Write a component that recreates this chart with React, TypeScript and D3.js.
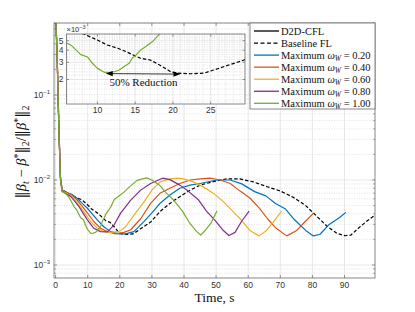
import React from 'react';
import * as d3 from 'd3';

const W = 415;
const H = 312;

// ---- data (values in units of 1e-3) ----
const greenT = [0, 0.5, 1, 1.5, 2, 3, 4, 5, 5.8, 6.5, 7.8, 8.7, 9.3, 10, 10.9, 11.6, 12.2, 12.9, 13.5, 14.2, 14.6, 15.1, 15.7, 16.4, 17.3, 17.9, 18.3, 19.5, 21.3, 23, 25.4, 27, 28.4, 30, 32.5, 34.5, 36.6, 39.5, 41.8, 43.8, 45.2, 46.8, 48.4, 50.3];
const greenV = [1000, 250, 40, 10, 7.3, 7.0, 6.4, 5.5, 4.8, 4.5, 3.6, 3.4, 2.95, 2.6, 2.37, 2.36, 2.4, 2.5, 2.7, 2.93, 3.3, 3.55, 4.0, 4.35, 4.9, 5.5, 5.9, 6.4, 7.2, 8.3, 9.9, 10.3, 10.6, 10.0, 8.6, 7.0, 5.9, 4.3, 3.1, 2.5, 2.25, 2.6, 3.1, 4.35];

const purpleT = [0, 0.5, 1, 1.5, 2, 3, 4.7, 6, 7.3, 8.5, 9.9, 11.9, 14, 16.1, 18.2, 20.2, 23.4, 26.5, 29.6, 33.3, 35.6, 38.7, 41.3, 44.4, 47, 49.8, 52, 54, 55.9, 57.9, 60.3];
const purpleV = [1000, 260, 42, 10.5, 7.4, 7.0, 6.4, 5.6, 4.85, 4.1, 3.4, 2.7, 2.47, 2.45, 2.95, 4.05, 5.8, 7.6, 9.1, 10.5, 10.1, 8.7, 7.4, 5.9, 4.3, 3.3, 2.6, 2.22, 2.42, 3.25, 4.3];

const yellowT = [0, 0.5, 1, 1.5, 2, 3, 4.5, 5.7, 7.2, 8.8, 10.9, 13, 15, 17.1, 19.7, 21.8, 24.4, 27.5, 30, 32.5, 35.6, 38, 39.8, 42.9, 46, 49.1, 52.2, 55.3, 57.8, 60.5, 63.4, 65.7, 67.8, 70.4];
const yellowV = [1000, 270, 44, 11, 7.5, 7.1, 6.6, 6.1, 5.1, 4.25, 3.25, 2.7, 2.47, 2.42, 2.47, 2.82, 3.87, 5.5, 7.6, 9.5, 10.3, 10.5, 10.3, 9.5, 8.3, 7.0, 5.6, 4.25, 3.4, 2.55, 2.2, 2.55, 3.2, 4.3];

const orangeT = [0, 0.5, 1, 1.5, 2, 3, 5, 6.7, 8.3, 9.9, 11.9, 14, 16.1, 18.7, 21.3, 23.4, 26.5, 29.6, 32.5, 35.6, 38.7, 41.9, 45, 48.1, 51.2, 54.4, 57.5, 60.6, 63.6, 66, 68.5, 72, 75.1, 77.7, 80.3];
const orangeV = [1000, 270, 45, 11, 7.6, 7.2, 6.7, 5.8, 4.9, 4.1, 3.25, 2.7, 2.47, 2.32, 2.42, 2.6, 3.5, 5.3, 6.97, 8.0, 9.1, 10.0, 10.3, 10.5, 10.0, 9.1, 7.4, 6.1, 4.6, 3.5, 2.75, 2.2, 2.55, 3.23, 4.05];

const blueT = [0, 0.5, 1, 1.5, 2, 3, 5, 6.7, 8.3, 9.9, 13, 15, 17.1, 19.7, 21.8, 24.4, 27.5, 30, 32.5, 35.6, 38.7, 41.9, 45, 50.2, 54.4, 58, 62, 65.5, 68.5, 71.5, 74.3, 77.9, 80.3, 82.4, 85, 88.6, 90.4];
const blueV = [1000, 270, 45, 11, 7.6, 7.2, 6.8, 6.1, 5.3, 4.65, 3.39, 2.82, 2.47, 2.32, 2.32, 2.47, 3.24, 4.1, 5.3, 6.66, 8.0, 8.7, 9.1, 10.0, 10.0, 9.0, 7.3, 6.5, 5.3, 4.6, 3.45, 2.55, 2.2, 2.3, 2.95, 3.64, 4.16];

const baseT = [0, 0.5, 1, 1.5, 2, 3, 4, 5.7, 8.2, 10, 11.3, 12.7, 13.8, 15.7, 17, 18.3, 19.7, 20.6, 22.3, 24.1, 25.4, 26.7, 28.1, 29.6, 32.5, 35.6, 38.7, 41.9, 45, 49.1, 53.3, 57.4, 61.6, 65.9, 70.1, 74.2, 77.9, 81.5, 84.6, 87.7, 90.2, 92, 94.3, 97, 99.3];
const baseV = [1000, 270, 45, 11, 7.7, 7.3, 7.0, 6.37, 5.86, 5.08, 4.52, 4.18, 3.86, 3.3, 3.17, 2.8, 2.4, 2.32, 2.29, 2.32, 2.5, 2.7, 2.93, 3.2, 4.24, 5.3, 6.37, 7.6, 8.7, 9.55, 10.3, 10.3, 9.5, 8.34, 7.4, 6.2, 5.0, 3.7, 2.85, 2.35, 2.21, 2.25, 2.7, 3.3, 3.8];

const legendLabels = ['D2D-CFL', 'Baseline FL', '0.20', '0.40', '0.60', '0.80', '1.00'];
const xTicks = [0, 10, 20, 30, 40, 50, 60, 70, 80, 90];
const yDecades = [-3, -2, -1];
const insetXTicks = [10, 15, 20, 25];
const insetYTicks = [2, 3, 4, 5];

const UNIT = 1e-3;
const SERIF = "'Liberation Serif', 'Times New Roman', serif";
const BARS = "'DejaVu Serif', serif";
const SANS = "'Liberation Sans', Arial, Helvetica, sans-serif";

const COLORS = {
  blue: '#0072BD',
  orange: '#D95319',
  yellow: '#EDB120',
  purple: '#7E2F8E',
  green: '#77AC30',
  black: '#000000',
};

type S = { t: number[]; v: number[]; color: string; dash?: string };

const seriesList: S[] = [
  { t: baseT, v: baseV, color: COLORS.black, dash: '3.5 2' },
  { t: blueT, v: blueV, color: COLORS.blue },
  { t: orangeT, v: orangeV, color: COLORS.orange },
  { t: yellowT, v: yellowV, color: COLORS.yellow },
  { t: purpleT, v: purpleV, color: COLORS.purple },
  { t: greenT, v: greenV, color: COLORS.green },
];

const legendItems = [
  { color: COLORS.black, dash: undefined as string | undefined, label: legendLabels[0], omega: false },
  { color: COLORS.black, dash: '4 2.5', label: legendLabels[1], omega: false },
  { color: COLORS.blue, dash: undefined, label: legendLabels[2], omega: true },
  { color: COLORS.orange, dash: undefined, label: legendLabels[3], omega: true },
  { color: COLORS.yellow, dash: undefined, label: legendLabels[4], omega: true },
  { color: COLORS.purple, dash: undefined, label: legendLabels[5], omega: true },
  { color: COLORS.green, dash: undefined, label: legendLabels[6], omega: true },
];

export default function App() {
  // main axes
  const L = 54, R = 375, T = 23, B = 278;
  const x = d3.scaleLinear().domain([-0.5, 99.5]).range([L, R]);
  const y = d3.scaleLog().domain([Math.pow(10, -3.153), Math.pow(10, -0.153)]).range([B, T]);

  const mkLine = (sx: any, sy: any) =>
    d3.line<[number, number]>().x((d) => sx(d[0])).y((d) => sy(d[1] * UNIT));

  const mainLine = mkLine(x, y);

  const minorVals: number[] = [];
  for (let k = -4; k <= -1; k++) {
    for (let m = 2; m <= 9; m++) {
      const v = m * Math.pow(10, k);
      const [d0, d1] = y.domain();
      if (v > d0 && v < d1) minorVals.push(v);
    }
  }

  // inset axes
  const iL = 66.5, iR = 245, iT = 34, iB = 104;
  const ix = d3.scaleLinear().domain([5.9, 29.55]).range([iL, iR]);
  const iy = d3.scaleLog().domain([1.12e-3, 5.86e-3]).range([iB, iT]);
  const insetLine = mkLine(ix, iy);
  const insetMinorX: number[] = d3.range(6, 30, 1).filter((v) => insetXTicks.indexOf(v) < 0);
  const insetMinorY: number[] = d3.range(1.2, 5.9, 0.2).map((v) => +v.toFixed(1)).filter((v) => insetYTicks.indexOf(v) < 0);

  const gridColor = '#e1e1e1';
  const minorColor = '#cfcfcf';
  const axisColor = '#6a6a6a';
  const tickText = '#333333';

  const toPairs = (s: S): [number, number][] => s.t.map((t, i) => [t, s.v[i]]);

  // arrow geometry (data coords in inset)
  const arrowA: [number, number] = [11.1, 2.3];
  const arrowB: [number, number] = [21.0, 2.27];
  const ax1 = ix(arrowA[0]), ay1 = iy(arrowA[1] * UNIT);
  const ax2 = ix(arrowB[0]), ay2 = iy(arrowB[1] * UNIT);
  const ang = Math.atan2(ay2 - ay1, ax2 - ax1);
  const head = (px: number, py: number, dir: number) => {
    const len = 7, wid = 2.6;
    const bx = px - Math.cos(dir) * len, by = py - Math.sin(dir) * len;
    const nx = -Math.sin(dir) * wid, ny = Math.cos(dir) * wid;
    return `M${px},${py}L${bx + nx},${by + ny}L${bx - nx},${by - ny}Z`;
  };

  const bar = (k: string, extra?: any) => (
    <tspan key={k} fontFamily={BARS} {...extra}>{'\u2016'}</tspan>
  );

  return (
    <svg width={W} height={H} style={{ position: 'absolute', left: 0, top: 0, background: '#fff' }}>
      <defs>
        <clipPath id="mainClip">
          <rect x={L} y={T} width={R - L} height={B - T} />
        </clipPath>
        <clipPath id="insetClip">
          <rect x={iL} y={iT} width={iR - iL} height={iB - iT} />
        </clipPath>
      </defs>
      <rect x={0} y={0} width={W} height={H} fill="#fff" />

      {/* main grid */}
      {minorVals.map((v, i) => (
        <line key={'mg' + i} x1={L} x2={R} y1={y(v)} y2={y(v)} stroke={minorColor} strokeWidth={0.6} strokeDasharray="1 1.5" />
      ))}
      {yDecades.map((k) => (
        <line key={'yg' + k} x1={L} x2={R} y1={y(Math.pow(10, k))} y2={y(Math.pow(10, k))} stroke={gridColor} strokeWidth={0.8} />
      ))}
      {xTicks.map((t) => (
        <line key={'xg' + t} x1={x(t)} x2={x(t)} y1={T} y2={B} stroke={gridColor} strokeWidth={0.8} />
      ))}

      {/* series */}
      <g clipPath="url(#mainClip)">
        {seriesList.map((s, i) => (
          <path key={'s' + i} d={mainLine(toPairs(s)) || ''} fill="none" stroke={s.color} strokeWidth={1.2} strokeDasharray={s.dash} strokeLinejoin="round" />
        ))}
      </g>

      {/* main axes box and ticks */}
      <rect x={L} y={T} width={R - L} height={B - T} fill="none" stroke={axisColor} strokeWidth={0.8} />
      {xTicks.map((t) => (
        <g key={'xt' + t}>
          <line x1={x(t)} x2={x(t)} y1={B} y2={B - 3} stroke={axisColor} strokeWidth={0.7} />
          <line x1={x(t)} x2={x(t)} y1={T} y2={T + 3} stroke={axisColor} strokeWidth={0.7} />
          <text x={x(t)} y={B + 10} fontSize={8.5} fontFamily={SANS} fill={tickText} textAnchor="middle">{t}</text>
        </g>
      ))}
      {yDecades.map((k) => (
        <g key={'yt' + k}>
          <line x1={L} x2={L + 3} y1={y(Math.pow(10, k))} y2={y(Math.pow(10, k))} stroke={axisColor} strokeWidth={0.7} />
          <line x1={R} x2={R - 3} y1={y(Math.pow(10, k))} y2={y(Math.pow(10, k))} stroke={axisColor} strokeWidth={0.7} />
          <text x={L - 4} y={y(Math.pow(10, k)) + 3.5} fontSize={8.5} fontFamily={SANS} fill={tickText} textAnchor="end">
            10<tspan dy={-4} fontSize={6}>{'\u2212' + Math.abs(k)}</tspan>
          </text>
        </g>
      ))}
      {minorVals.map((v, i) => (
        <g key={'ymt' + i}>
          <line x1={L} x2={L + 1.8} y1={y(v)} y2={y(v)} stroke={axisColor} strokeWidth={0.6} />
          <line x1={R} x2={R - 1.8} y1={y(v)} y2={y(v)} stroke={axisColor} strokeWidth={0.6} />
        </g>
      ))}

      {/* axis labels */}
      <text x={214.5} y={301.5} fontSize={13.5} fontFamily={SERIF} fill="#111" textAnchor="middle">Time, s</text>
      <text transform="translate(26,152) rotate(-90)" fontSize={14.5} fontFamily={SERIF} fill="#111" textAnchor="middle">
        {bar('b1')}
        <tspan fontStyle="italic">{'\u03B2'}</tspan>
        <tspan fontStyle="italic" fontSize={10} dy={3}>t</tspan>
        <tspan dy={-3}>{' \u2212 '}</tspan>
        <tspan fontStyle="italic">{'\u03B2'}</tspan>
        <tspan fontSize={10} dy={-5.5}>*</tspan>
        {bar('b2', { dy: 5.5 })}
        <tspan fontSize={10} dy={3}>2</tspan>
        <tspan dy={-3}>{'/'}</tspan>
        {bar('b3')}
        <tspan fontStyle="italic">{'\u03B2'}</tspan>
        <tspan fontSize={10} dy={-5.5}>*</tspan>
        {bar('b4', { dy: 5.5 })}
        <tspan fontSize={10} dy={3}>2</tspan>
      </text>

      {/* inset */}
      <rect x={iL} y={iT} width={iR - iL} height={iB - iT} fill="#fff" />
      {insetMinorX.map((v) => (
        <line key={'imx' + v} x1={ix(v)} x2={ix(v)} y1={iT} y2={iB} stroke={minorColor} strokeWidth={0.6} strokeDasharray="1 1.5" />
      ))}
      {insetMinorY.map((v) => (
        <line key={'imy' + v} x1={iL} x2={iR} y1={iy(v * UNIT)} y2={iy(v * UNIT)} stroke={minorColor} strokeWidth={0.6} strokeDasharray="1 1.5" />
      ))}
      {insetXTicks.map((v) => (
        <line key={'igx' + v} x1={ix(v)} x2={ix(v)} y1={iT} y2={iB} stroke={gridColor} strokeWidth={0.8} />
      ))}
      {insetYTicks.map((v) => (
        <line key={'igy' + v} x1={iL} x2={iR} y1={iy(v * UNIT)} y2={iy(v * UNIT)} stroke={gridColor} strokeWidth={0.8} />
      ))}
      <g clipPath="url(#insetClip)">
        <path d={insetLine(toPairs(seriesList[0])) || ''} fill="none" stroke={COLORS.black} strokeWidth={1.2} strokeDasharray="3.5 2" />
        <path d={insetLine(toPairs(seriesList[5])) || ''} fill="none" stroke={COLORS.green} strokeWidth={1.2} strokeLinejoin="round" />
      </g>
      <rect x={iL} y={iT} width={iR - iL} height={iB - iT} fill="none" stroke={axisColor} strokeWidth={0.8} />
      {insetXTicks.map((v) => (
        <g key={'ixt' + v}>
          <line x1={ix(v)} x2={ix(v)} y1={iB} y2={iB - 2.5} stroke={axisColor} strokeWidth={0.7} />
          <line x1={ix(v)} x2={ix(v)} y1={iT} y2={iT + 2.5} stroke={axisColor} strokeWidth={0.7} />
          <text x={ix(v)} y={iB + 9} fontSize={8.5} fontFamily={SANS} fill={tickText} textAnchor="middle">{v}</text>
        </g>
      ))}
      {insetYTicks.map((v) => (
        <g key={'iyt' + v}>
          <line x1={iL} x2={iL + 2.5} y1={iy(v * UNIT)} y2={iy(v * UNIT)} stroke={axisColor} strokeWidth={0.7} />
          <line x1={iR} x2={iR - 2.5} y1={iy(v * UNIT)} y2={iy(v * UNIT)} stroke={axisColor} strokeWidth={0.7} />
          <text x={iL - 3} y={iy(v * UNIT) + 3} fontSize={8.5} fontFamily={SANS} fill={tickText} textAnchor="end">{v}</text>
        </g>
      ))}
      <text x={iL} y={iT - 2.5} fontSize={7.5} fontFamily={SANS} fill={tickText}>
        {'\u00D710'}<tspan dy={-3} fontSize={5.5}>{'\u22123'}</tspan>
      </text>

      {/* annotation */}
      <line x1={ax1 + Math.cos(ang) * 5} y1={ay1 + Math.sin(ang) * 5} x2={ax2 - Math.cos(ang) * 5} y2={ay2 - Math.sin(ang) * 5} stroke="#000" strokeWidth={0.8} />
      <path d={head(ax1, ay1, ang + Math.PI)} fill="#000" />
      <path d={head(ax2, ay2, ang)} fill="#000" />
      <text x={143.5} y={85.5} fontSize={11} fontFamily={SERIF} fill="#111" textAnchor="middle">50% Reduction</text>

      {/* legend */}
      <rect x={250} y={T} width={R - 250} height={86} fill="#fff" stroke={axisColor} strokeWidth={0.8} />
      {legendItems.map((it, i) => {
        const ly = 31 + i * 12.05;
        return (
          <g key={'lg' + i}>
            <line x1={254} x2={279} y1={ly} y2={ly} stroke={it.color} strokeWidth={1.3} strokeDasharray={it.dash} />
            <text x={281} y={ly + 3.5} fontSize={10.5} fontFamily={SERIF} fill="#111">
              {it.omega ? (
                <>
                  {'Maximum '}
                  <tspan fontStyle="italic">{'\u03C9'}</tspan>
                  <tspan fontStyle="italic" fontSize={7.5} dy={2.5}>W</tspan>
                  <tspan dy={-2.5}>{' = ' + it.label}</tspan>
                </>
              ) : (
                it.label
              )}
            </text>
          </g>
        );
      })}
    </svg>
  );
}
